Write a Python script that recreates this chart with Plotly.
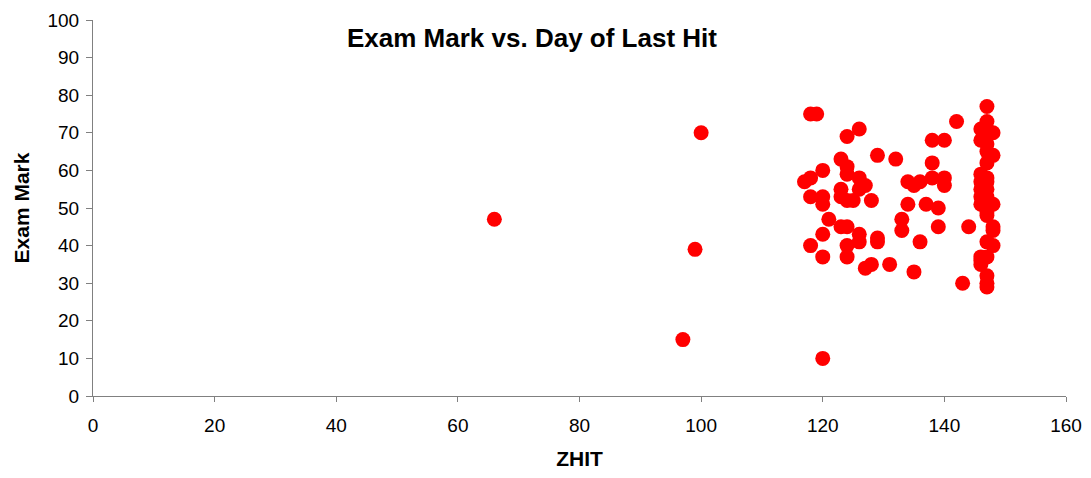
import plotly.graph_objects as go

# ZHIT (day of last hit) and exam mark
zhit = [66, 97, 99, 100,
        117, 118, 118, 119, 118, 118,
        120, 120, 120, 120, 120, 120, 121,
        123, 123, 123, 123, 124, 124, 124, 124, 124, 124, 124, 125,
        126, 126, 126, 126, 126, 127, 127, 128, 128,
        129, 129, 129, 131, 132, 133, 133, 134, 134, 135, 135,
        136, 136, 137, 138, 138, 138, 139, 139,
        140, 140, 140, 142, 143, 144,
        146, 146, 146, 146, 146, 146, 146, 146, 146, 146,
        147, 147, 147, 147, 147, 147, 147, 147, 147, 147,
        147, 147, 147, 147, 147, 147, 147, 147, 147,
        148, 148, 148, 148, 148, 148]
exam_mark = [47, 15, 39, 70,
             57, 58, 75, 75, 53, 40,
             60, 53, 51, 43, 37, 10, 47,
             63, 55, 53, 45, 69, 61, 59, 52, 45, 40, 37, 52,
             71, 58, 55, 43, 41, 56, 34, 52, 35,
             64, 42, 41, 35, 63, 47, 44, 57, 51, 56, 33,
             57, 41, 51, 68, 62, 58, 50, 45,
             68, 58, 56, 73, 30, 45,
             71, 68, 59, 57, 55, 53, 51, 37, 36, 35,
             77, 73, 71, 69, 67, 65, 62, 58, 57, 55,
             53, 52, 49, 48, 41, 37, 32, 30, 29,
             70, 64, 51, 45, 44, 40]

x_ticks = [0, 20, 40, 60, 80, 100, 120, 140, 160]
y_ticks = [0, 10, 20, 30, 40, 50, 60, 70, 80, 90, 100]

FONT = 'Liberation Sans, Arial, sans-serif'
tick_font = dict(family=FONT, size=19, color='#000000')
title_font = dict(family=FONT, size=21, color='#000000')

fig = go.Figure()
fig.add_trace(go.Scatter(
    x=zhit,
    y=exam_mark,
    mode='markers',
    marker=dict(color='#FF0000', size=15, line=dict(width=0)),
    showlegend=False
))

# the page body adds an 8px margin, so the figure is sized to fit inside it
fig.update_layout(
    width=1075,
    height=462,
    margin=dict(l=85, r=17, t=12, b=74),
    plot_bgcolor='#FFFFFF',
    paper_bgcolor='#FFFFFF',
    font=tick_font,
    annotations=[dict(
        text='<b>Exam Mark vs. Day of Last Hit</b>',
        x=0.451, y=0.952, xref='paper', yref='paper',
        xanchor='center', yanchor='middle', showarrow=False,
        font=dict(family=FONT, size=26, color='#000000')
    )]
)

fig.update_xaxes(
    range=[0, 160],
    tickvals=x_ticks,
    showgrid=False,
    zeroline=False,
    showline=True,
    linecolor='#808080',
    linewidth=1,
    ticks='outside',
    ticklen=5,
    tickcolor='#808080',
    ticklabelstandoff=7,
    tickfont=tick_font,
    automargin=False,
    title=dict(text='<b>ZHIT</b>', standoff=19, font=title_font)
)
fig.update_yaxes(
    range=[0, 100],
    tickvals=y_ticks,
    showgrid=False,
    zeroline=False,
    showline=True,
    linecolor='#808080',
    linewidth=1,
    ticks='outside',
    ticklen=6,
    tickcolor='#808080',
    ticklabelstandoff=3,
    tickfont=tick_font,
    automargin=False,
    title=dict(text='<b>Exam Mark</b>', standoff=12, font=title_font)
)

fig.write_html("out.html")
